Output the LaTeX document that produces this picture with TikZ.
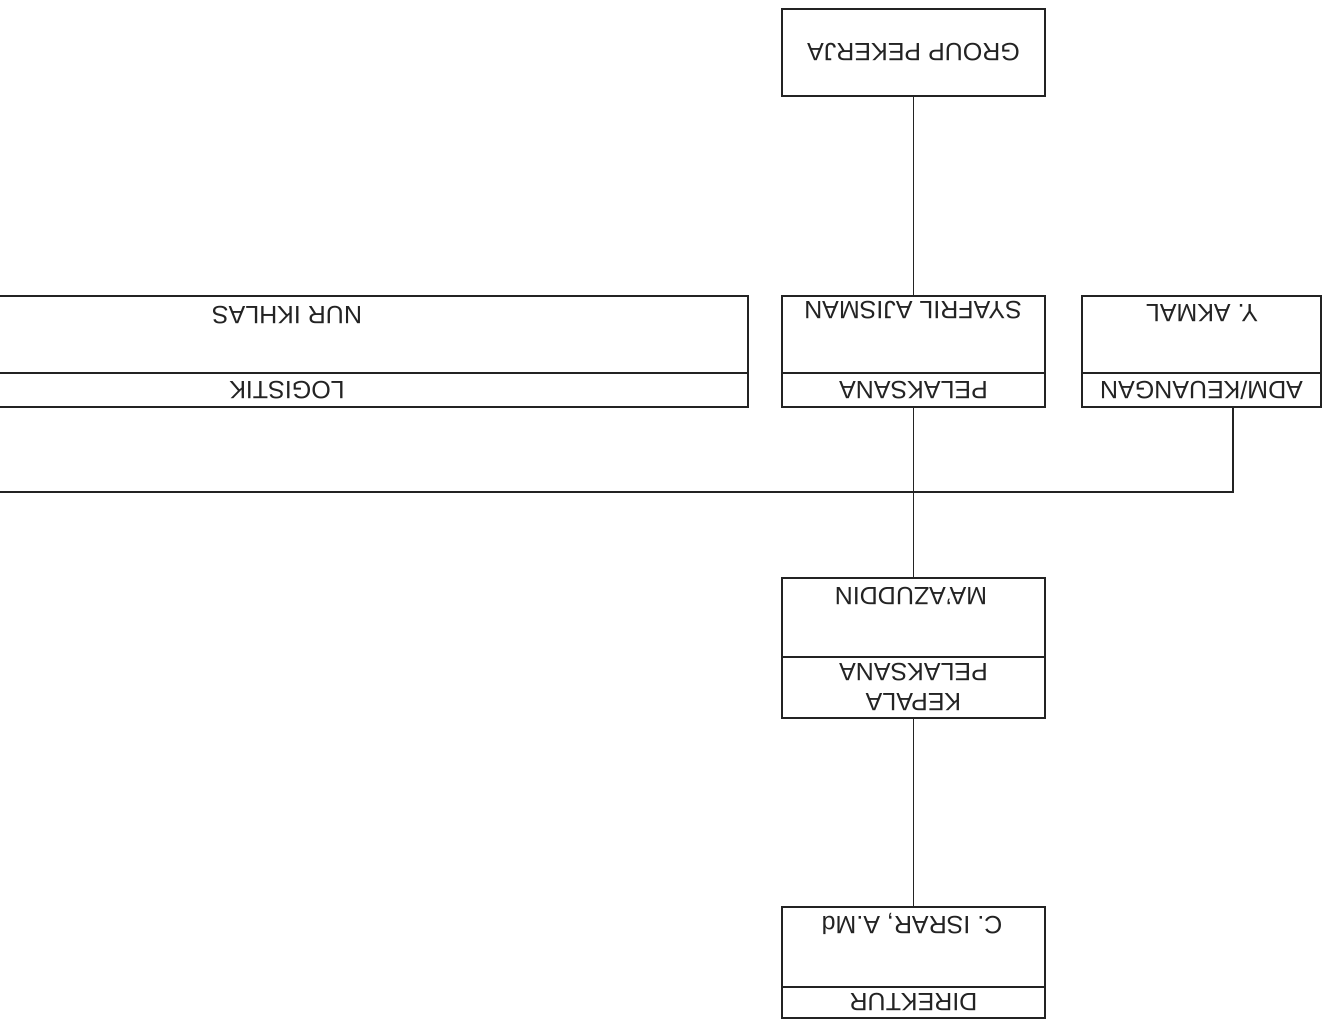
\documentclass[tikz,border=0pt]{standalone}
\usepackage{fontspec}
\setmainfont{Liberation Sans}
\usepackage{tikz}
\usetikzlibrary{positioning}
\definecolor{ScanInk}{RGB}{35, 35, 35}

\begin{document}
\begin{tikzpicture}[
  x=0.5pt, y=-0.5pt,
  titlebox/.style={
    rectangle, draw=ScanInk, line width=1.1pt, outer sep=0pt, inner sep=0pt,
    minimum width=131.5pt, rotate=180, text=ScanInk, align=center,
    text height=9pt, text depth=0pt, font=\fontsize{12.5}{15}\selectfont
  },
  namebox/.style={titlebox},
  nametext/.style={rotate=180, inner sep=0pt, text=ScanInk,
    text height=9pt, text depth=0pt, font=\fontsize{12.5}{15}\selectfont},
  conn/.style={draw=ScanInk, line width=0.8pt}
]
  \useasboundingbox[fill=white] (0,0) rectangle (1325,1019);

  % direktur
  \node[titlebox, minimum height=15.5pt] (dirT) at (913.5,1002.5) {DIREKTUR};
  \node[namebox, minimum height=40pt, below=0pt of dirT] (dirN) {};
  \node[nametext] (dirNm) at (912,925) {C. ISRAR, A.Md};

  % kepala pelaksana
  \node[titlebox, minimum height=30.5pt, text height=24pt] (kepT) at (913.5,687.5) {KEPALA\\PELAKSANA};
  \node[namebox, minimum height=39.5pt, below=0pt of kepT] (kepN) {};
  \node[nametext] (kepNm) at (911,596) {MA'AZUDDIN};

  % pelaksana, adm/keuangan, logistik
  \node[titlebox, minimum height=17pt] (pelT) at (913.5,390) {PELAKSANA};
  \node[namebox, minimum height=38.5pt, below=0pt of pelT] (pelN) {};
  \node[nametext] (pelNm) at (913,310) {SYAFRIL AJISMAN};

  \node[titlebox, minimum width=119.5pt, minimum height=17pt] (admT) at (1201.5,390) {ADM/KEUANGAN};
  \node[namebox, minimum width=119.5pt, minimum height=38.5pt, below=0pt of admT] (admN) {};
  \node[nametext] (admNm) at (1202,313) {Y.~AKMAL};

  \node[titlebox, minimum width=461pt, minimum height=17pt] (logT) at (287,390) {LOGISTIK};
  \node[namebox, minimum width=461pt, minimum height=38.5pt, below=0pt of logT] (logN) {};
  \node[nametext] (logNm) at (287,315) {NUR IKHLAS};

  % group pekerja
  \node[titlebox, minimum height=43.5pt] (grp) at (913.5,52.5) {GROUP PEKERJA};

  % connectors
  \coordinate (busR) at (1233,492);
  \coordinate (busL) at (0,492);
  \draw[conn] (dirN) -- (kepT);
  \draw[conn] (kepN) -- (pelT);
  \draw[conn] (pelN) -- (grp);
  \draw[conn] (admT.north -| busR) -- (busR) -- (busL);
\end{tikzpicture}
\end{document}
